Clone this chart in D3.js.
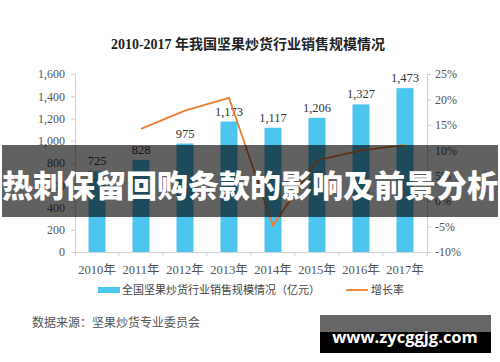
<!DOCTYPE html>
<html>
<head>
<meta charset="utf-8">
<title>2010-2017 坚果炒货行业销售规模</title>
<script src="https://cdn.jsdelivr.net/npm/d3@7"></script>
<style>
  body { margin: 0; background: #fff; }
  svg { display: block; }
</style>
</head>
<body>
<div id="chart"></div>
<script>
  // data
  var years = ["2010年", "2011年", "2012年", "2013年", "2014年", "2015年", "2016年", "2017年"];
  var sales = [725, 828, 975, 1173, 1117, 1206, 1327, 1473];
  var growth = [null, 14.2, 17.8, 20.3, -4.8, 8.0, 10.0, 11.0];
  var leftTicks = [0, 200, 400, 600, 800, 1000, 1200, 1400, 1600];
  var rightTicks = [-10, -5, 0, 5, 10, 15, 20, 25];

  var W = 500, H = 362;
  var plotLeft = 75, plotRight = 427, plotTop = 74, plotBottom = 252;
  var serif = "'Liberation Serif', 'Times New Roman', 'Noto Sans CJK SC', serif";
  var sans = "'Noto Sans CJK SC', 'Noto Sans', sans-serif";

  var svg = d3.select("#chart").append("svg")
      .attr("width", W)
      .attr("height", H);

  var x = d3.scaleBand().domain(years).range([plotLeft, plotRight]);
  var y = d3.scaleLinear().domain([0, 1600]).range([plotBottom, plotTop]);
  var y2 = d3.scaleLinear().domain([-10, 25]).range([plotBottom, plotTop]);

  // title
  svg.append("text")
      .attr("x", 248).attr("y", 49)
      .attr("text-anchor", "middle")
      .attr("font-family", serif)
      .attr("font-weight", "bold")
      .attr("font-size", 14)
      .attr("fill", "#222")
      .text("2010-2017 年我国坚果炒货行业销售规模情况");

  // axes
  var gl = svg.append("g").attr("transform", "translate(" + plotLeft + ",0)")
      .call(d3.axisLeft(y).tickValues(leftTicks).tickFormat(d3.format(",")).tickSize(4).tickPadding(6));
  var gr = svg.append("g").attr("transform", "translate(" + plotRight + ",0)")
      .call(d3.axisRight(y2).tickValues(rightTicks).tickFormat(function(d) { return d + "%"; }).tickSize(4).tickPadding(4));
  var gx = svg.append("g").attr("transform", "translate(0," + plotBottom + ")")
      .call(d3.axisBottom(x).tickSize(0).tickPadding(13));

  // x ticks on category boundaries
  svg.append("g").selectAll("line")
      .data(d3.range(years.length + 1))
      .enter().append("line")
      .attr("x1", function(i) { return plotLeft + i * x.step(); })
      .attr("x2", function(i) { return plotLeft + i * x.step(); })
      .attr("y1", plotBottom).attr("y2", plotBottom + 4)
      .attr("stroke", "#d0d0d0");

  [gl, gr, gx].forEach(function(g) {
    g.selectAll("path, line").attr("stroke", "#d0d0d0");
    g.selectAll("text")
        .attr("font-family", serif)
        .attr("font-size", 12)
        .attr("fill", "#555");
  });
  gx.selectAll("text").attr("font-size", 12.5);

  // bars
  var barW = 17;
  svg.append("g").selectAll("rect")
      .data(sales)
      .enter().append("rect")
      .attr("x", function(d, i) { return x(years[i]) + x.bandwidth() / 2 - barW / 2; })
      .attr("y", function(d) { return y(d); })
      .attr("width", barW)
      .attr("height", function(d) { return plotBottom - y(d); })
      .attr("fill", "#4cc5ef");

  svg.append("g").selectAll("text")
      .data(sales)
      .enter().append("text")
      .attr("x", function(d, i) { return x(years[i]) + x.bandwidth() / 2; })
      .attr("y", function(d) { return y(d) - 6; })
      .attr("text-anchor", "middle")
      .attr("font-family", serif)
      .attr("font-size", 12.5)
      .attr("fill", "#333")
      .text(d3.format(","));

  // growth line
  var line = d3.line()
      .defined(function(d) { return d !== null; })
      .x(function(d, i) { return x(years[i]) + x.bandwidth() / 2; })
      .y(function(d) { return y2(d); });

  svg.append("path")
      .datum(growth)
      .attr("d", line)
      .attr("fill", "none")
      .attr("stroke", "#ed7d31")
      .attr("stroke-width", 1.8);

  // legend
  var lg = svg.append("g").attr("font-family", sans).attr("font-size", 11).attr("fill", "#444");
  lg.append("rect").attr("x", 98).attr("y", 287).attr("width", 22).attr("height", 6).attr("fill", "#4cc5ef");
  lg.append("text").attr("x", 122).attr("y", 294).text("全国坚果炒货行业销售规模情况（亿元）");
  lg.append("line").attr("x1", 346).attr("x2", 368).attr("y1", 290).attr("y2", 290)
      .attr("stroke", "#ed7d31").attr("stroke-width", 1.8);
  lg.append("text").attr("x", 371).attr("y", 294).text("增长率");

  // source note
  svg.append("text")
      .attr("x", 32).attr("y", 327)
      .attr("font-family", sans)
      .attr("font-size", 12)
      .attr("fill", "#555")
      .text("数据来源：坚果炒货专业委员会");

  // overlay banner
  svg.append("rect")
      .attr("x", 2).attr("y", 145)
      .attr("width", 496).attr("height", 72)
      .attr("fill", "rgba(0,0,0,0.62)");
  svg.append("text")
      .attr("x", 250).attr("y", 197)
      .attr("text-anchor", "middle")
      .attr("font-family", sans)
      .attr("font-weight", 900)
      .attr("font-size", 31)
      .attr("fill", "#fff")
      .text("热刺保留回购条款的影响及前景分析");

  // watermark box
  svg.append("rect").attr("x", 320).attr("y", 315).attr("width", 171).attr("height", 38).attr("fill", "#000");
  svg.append("rect").attr("x", 320).attr("y", 315).attr("width", 171).attr("height", 17).attr("fill", "#666");
  svg.append("text")
      .attr("x", 405).attr("y", 343)
      .attr("text-anchor", "middle")
      .attr("font-family", "'Open Sans', 'DejaVu Sans', sans-serif")
      .attr("font-weight", "bold")
      .attr("font-size", 16.5)
      .attr("fill", "#fff")
      .text("www.zycggjg.com");
</script>
</body>
</html>
